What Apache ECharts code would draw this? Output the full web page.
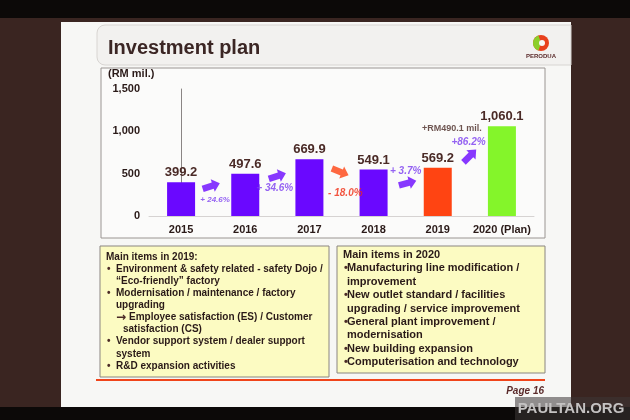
<!DOCTYPE html>
<html>
<head>
<meta charset="utf-8">
<script src="https://cdn.jsdelivr.net/npm/echarts@6/dist/echarts.min.js"></script>
<style>
  html, body { margin: 0; padding: 0; background: #3a2521; }
  #main { width: 630px; height: 420px; }
</style>
</head>
<body>
<div id="main"></div>
<script>
// 数据
const years = ['2015', '2016', '2017', '2018', '2019', '2020 (Plan)'];
const invest = [399.2, 497.6, 669.9, 549.1, 569.2, 1060.1];
const yTicks = [0, 500, 1000, 1500];
const changeText = ['+ 24.6%', '+ 34.6%', '- 18.0%', '+ 3.7%', '+86.2%'];
const arrowX = [0.47, 1.5, 2.48, 3.53, 4.5];
const arrowY = [354, 472, 520, 390, 709];
const changeX = [0.53, 1.46, 2.56, 3.5, 4.48];
const changeY = [189, 331, 272, 531, 874];
const extraNote = '+RM490.1 mil.';
const extraX = 4.22;
const extraY = 1039;

const items2019 = [
    ['Main items in 2019:', 'head'],
    ['Environment & safety related - safety Dojo /', 'bullet'],
    ['\u201cEco-friendly\u201d factory', 'cont'],
    ['Modernisation / maintenance / factory', 'bullet'],
    ['upgrading', 'cont'],
    ['Employee satisfaction (ES) / Customer', 'sub'],
    ['satisfaction (CS)', 'subcont'],
    ['Vendor support system / dealer support', 'bullet'],
    ['system', 'cont'],
    ['R&D expansion activities', 'bullet']
];
const items2020 = [
    ['Main items in 2020', 'head'],
    ['Manufacturing line modification /', 'bullet'],
    ['improvement', 'cont'],
    ['New outlet standard / facilities', 'bullet'],
    ['upgrading / service improvement', 'cont'],
    ['General plant improvement /', 'bullet'],
    ['modernisation', 'cont'],
    ['New building expansion', 'bullet'],
    ['Computerisation and technology', 'bullet']
];

const PURPLE = '#6a08ff';
const RED = '#ff4412';
const GREEN = '#84f52a';
const BROWN = '#4a2a26';
const FONT = '"Liberation Sans", Arial, sans-serif';

function barColor(i) {
    if (i === 4) return RED;
    if (i === 5) return GREEN;
    return PURPLE;
}

// 文字框
function boxTexts(list, x0, y0, step, size, bulletGap) {
    const out = [];
    list.forEach((it, i) => {
        const kind = it[1];
        const y = y0 + i * step;
        let x = x0 + bulletGap;
        if (kind === 'head') x = x0;
        if (kind === 'sub') {
            x = x0 + bulletGap + 13;
            out.push({
                type: 'text', z: 10, x: x0 + bulletGap, y: y,
                style: { text: '\u2192', fill: BROWN, font: 'bold ' + (size + 2) + 'px "DejaVu Sans", ' + FONT, verticalAlign: 'middle' }
            });
        }
        if (kind === 'subcont') x = x0 + bulletGap + 7;
        if (kind === 'bullet') {
            out.push({
                type: 'text', z: 10, x: x0 + 1, y: y,
                style: { text: '\u2022', fill: BROWN, font: 'bold ' + size + 'px ' + FONT, verticalAlign: 'middle' }
            });
        }
        out.push({
            type: 'text', z: 10, x: x, y: y,
            style: { text: it[0], fill: '#2a1a18', font: 'bold ' + size + 'px ' + FONT, verticalAlign: 'middle' }
        });
    });
    return out;
}

const chart = echarts.init(document.getElementById('main'));

const graphics = [
    // 顶部/底部黑边
    { type: 'rect', z: -10, shape: { x: 0, y: 0, width: 630, height: 18 }, style: { fill: '#0c0908' } },
    { type: 'rect', z: -10, shape: { x: 0, y: 407, width: 630, height: 13 }, style: { fill: '#0c0908' } },
    // 幻灯片
    { type: 'rect', z: -9, shape: { x: 61, y: 22, width: 510, height: 385 }, style: { fill: '#f7f7f5' } },
    { type: 'rect', z: -8, shape: { x: 97, y: 25, width: 474, height: 40, r: [8, 0, 0, 8] },
      style: { fill: '#f2f1ef', stroke: '#d8d5d2', lineWidth: 1 } },
    { type: 'text', z: 10, x: 108, y: 48,
      style: { text: 'Investment plan', fill: '#3b2624', font: 'bold 20px ' + FONT, verticalAlign: 'middle' } },
    // logo
    { type: 'circle', z: 10, shape: { cx: 541, cy: 43, r: 8 }, style: { fill: '#e8401c' } },
    { type: 'sector', z: 11, shape: { cx: 541, cy: 43, r: 8, startAngle: Math.PI * 0.6, endAngle: Math.PI * 1.4 }, style: { fill: '#8ccf2a' } },
    { type: 'circle', z: 12, shape: { cx: 542, cy: 43, r: 3 }, style: { fill: '#f7f7f5' } },
    { type: 'text', z: 10, x: 541, y: 56,
      style: { text: 'PERODUA', fill: '#5a2a2a', font: 'bold 6px ' + FONT, align: 'center', verticalAlign: 'middle' } },
    // 图表框
    { type: 'rect', z: -7, shape: { x: 101, y: 68, width: 444, height: 170 },
      style: { fill: '#fbfbfa', stroke: '#9a9592', lineWidth: 1 } },
    { type: 'text', z: 10, x: 108, y: 74,
      style: { text: '(RM mil.)', fill: '#2a1a18', font: 'bold 11px ' + FONT, verticalAlign: 'middle' } },
    // 文字框
    { type: 'rect', z: -7, shape: { x: 100, y: 246, width: 229, height: 131 },
      style: { fill: '#fcfbc2', stroke: '#8a8580', lineWidth: 1 } },
    { type: 'rect', z: -7, shape: { x: 337, y: 246, width: 208, height: 127 },
      style: { fill: '#fcfbc2', stroke: '#8a8580', lineWidth: 1 } },
    { type: 'line', z: -6, shape: { x1: 96, y1: 380, x2: 545, y2: 380 }, style: { stroke: '#f0441a', lineWidth: 2 } },
    { type: 'text', z: 10, x: 544, y: 391,
      style: { text: 'Page 16', fill: '#5a2a2a', font: 'italic bold 10px ' + FONT, align: 'right', verticalAlign: 'middle' } },
    // 水印
    { type: 'rect', z: 20, shape: { x: 515, y: 397, width: 115, height: 23 }, style: { fill: 'rgba(60,55,55,0.55)' } },
    { type: 'text', z: 21, x: 571, y: 409,
      style: { text: 'PAULTAN.ORG', fill: '#c4c2c2', font: 'bold 15px ' + FONT, align: 'center', verticalAlign: 'middle' } }
].concat(boxTexts(items2019, 106, 257, 12.1, 10, 10))
 .concat(boxTexts(items2020, 343, 255, 13.4, 11, 4));

const option = {
    backgroundColor: '#3a2521',
    animation: false,
    graphic: graphics,
    grid: { left: 149, right: 96, top: 89, bottom: 204 },
    xAxis: [
        {
            type: 'category',
            data: years,
            axisTick: { show: false },
            axisLine: { lineStyle: { color: '#d6d3d2', width: 1 } },
            axisLabel: { color: '#2a1a18', fontFamily: FONT, fontWeight: 'bold', fontSize: 11, margin: 8, interval: 0 }
        },
        { type: 'value', min: -0.5, max: 5.5, show: false }
    ],
    yAxis: {
        type: 'value',
        min: yTicks[0],
        max: yTicks[yTicks.length - 1],
        interval: 500,
        splitLine: { show: false },
        axisTick: { show: false },
        axisLine: { show: true, lineStyle: { color: '#8a8584', width: 1 } },
        axisLabel: {
            color: '#2a1a18', fontFamily: FONT, fontWeight: 'bold', fontSize: 11, margin: 9,
            formatter: v => v.toLocaleString('en-US')
        }
    },
    series: [
        {
            type: 'bar',
            barWidth: 28,
            data: invest.map((v, i) => ({ value: v, itemStyle: { color: barColor(i) } })),
            label: {
                show: true, position: 'top', distance: 3,
                color: BROWN, fontFamily: FONT, fontWeight: 'bold', fontSize: 13,
                formatter: p => p.value.toLocaleString('en-US', { minimumFractionDigits: 1 })
            }
        },
        {
            // 箭头
            type: 'scatter',
            xAxisIndex: 1,
            symbol: 'path://M0,3 L10,3 L10,0 L17,6 L10,12 L10,9 L0,9 Z',
            symbolSize: [18, 13],
            data: arrowX.map((x, i) => ({
                value: [x, arrowY[i]],
                symbolRotate: [18, 18, -22, 15, 45][i],
                itemStyle: { color: i === 2 ? RED : PURPLE }
            })),
            z: 5
        },
        {
            type: 'scatter',
            xAxisIndex: 1,
            symbolSize: 0,
            data: changeX.map((x, i) => ({
                value: [x, changeY[i]],
                label: { color: i === 2 ? '#f02a10' : '#7a3cf0', fontSize: i === 0 ? 8 : 10 }
            })).concat([{ value: [extraX, extraY], label: { color: BROWN, fontStyle: 'normal', fontSize: 9 } }]),
            label: {
                show: true, position: 'inside', fontFamily: FONT, fontWeight: 'bold', fontStyle: 'italic',
                formatter: p => p.dataIndex < changeText.length ? changeText[p.dataIndex] : extraNote
            },
            z: 6
        }
    ]
};

chart.setOption(option);
</script>
</body>
</html>
